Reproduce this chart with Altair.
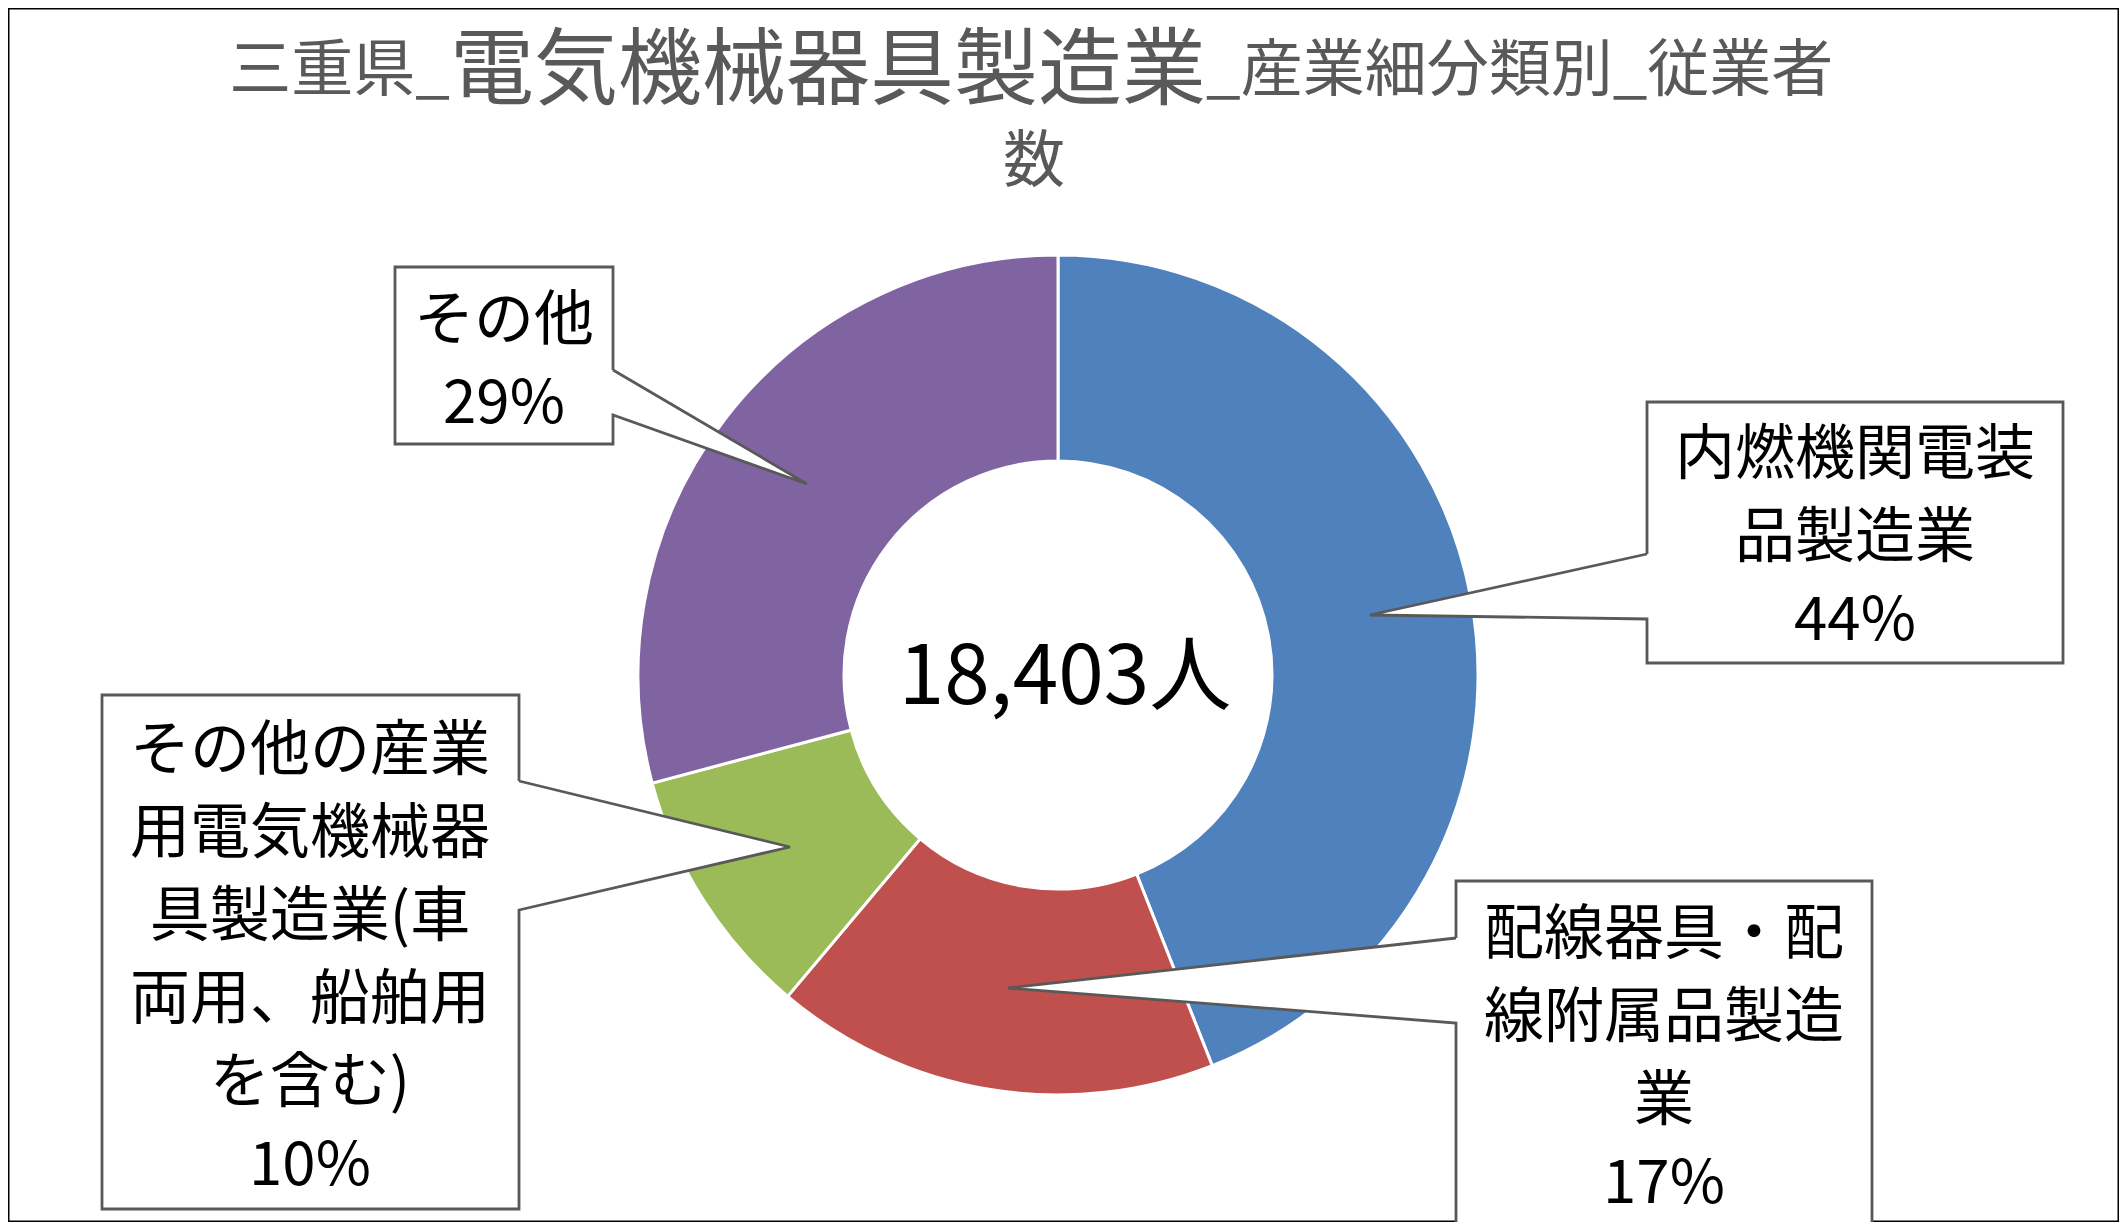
import altair as alt
import pandas as pd

# データ(三重県 電気機械器具製造業 産業細分類別 従業者数)
categories = [
    "内燃機関電装品製造業",
    "配線器具・配線附属品製造業",
    "その他の産業用電気機械器具製造業(車両用、船舶用を含む)",
    "その他",
]
employees = [8100, 3150, 1790, 5363]
label_lines = [
    ["内燃機関電装", "品製造業"],
    ["配線器具・配", "線附属品製造", "業"],
    ["その他の産業", "用電気機械器", "具製造業(車", "両用、船舶用", "を含む)"],
    ["その他"],
]
colors = ["#4F81BD", "#C0504D", "#9BBB59", "#8064A2"]
total_label = "18,403人"
title_parts = ["三重県_", "電気機械器具製造業", "_産業細分類別_従業者", "数"]

FONT = "Noto Sans CJK JP"
GRAY = "#595959"
OFF = 8                      # ページ余白
W, H = 2111, 1214

# 吹き出しの配置 (box: x0, y0, x1, y1 / 矢印: e1, tip, e2 / 文字中心x, 1行目y)
CALLOUTS = [
    dict(box=(1647, 402, 2063, 663), side="left",
         e1=(1647, 554), tip=(1370, 615), e2=(1647, 619), cx=1855, y0=452),
    dict(box=(1456, 881, 1872, 1224), side="left",
         e1=(1456, 938), tip=(1008, 988), e2=(1456, 1023), cx=1664, y0=932),
    dict(box=(102, 695, 519, 1209), side="right",
         e1=(519, 781), tip=(790, 847), e2=(519, 910), cx=310, y0=748),
    dict(box=(395, 267, 613, 444), side="right",
         e1=(613, 370), tip=(807, 484), e2=(613, 415), cx=504, y0=318),
]
LINE_H = 83
FS = 60

total = sum(employees)
shares = [round(v / total * 100) for v in employees]

pie_df = pd.DataFrame({"category": categories, "employees": employees,
                       "idx": range(len(categories))})

poly_rows, text_rows = [], []
for i, c in enumerate(CALLOUTS):
    x0, y0, x1, y1 = c["box"]
    if c["side"] == "left":
        pts = [c["e1"], c["tip"], c["e2"], (x0, y1), (x1, y1), (x1, y0), (x0, y0), c["e1"]]
    else:
        pts = [c["e1"], c["tip"], c["e2"], (x1, y1), (x0, y1), (x0, y0), (x1, y0), c["e1"]]
    for k, (px, py) in enumerate(pts):
        poly_rows.append({"cid": i, "step": k, "px": px - OFF, "py": py - OFF})
    lines = label_lines[i] + [f"{shares[i]}%"]
    for j, t in enumerate(lines):
        yc = c["y0"] + j * LINE_H
        text_rows.append({"px": c["cx"] - OFF, "py": yc + 0.37 * FS - OFF, "text": t})

poly_df = pd.DataFrame(poly_rows)
text_df = pd.DataFrame(text_rows)

xs = alt.Scale(domain=[0, W], nice=False, zero=False)
ys = alt.Scale(domain=[0, H], nice=False, zero=False, reverse=True)

donut = alt.Chart(pie_df).mark_arc(
    innerRadius=214, outerRadius=420, stroke="white", strokeWidth=3
).encode(
    theta=alt.Theta("employees:Q", stack=True),
    color=alt.Color("category:N", scale=alt.Scale(domain=categories, range=colors),
                    legend=None),
    order=alt.Order("idx:Q"),
    x=alt.value(1058 - OFF),
    y=alt.value(675 - OFF),
)

boxes = alt.Chart(poly_df).mark_line(
    fill="white", stroke=GRAY, strokeWidth=2.8, strokeJoin="miter"
).encode(
    x=alt.X("px:Q", scale=xs, axis=None),
    y=alt.Y("py:Q", scale=ys, axis=None),
    detail="cid:N",
    order="step:Q",
)

labels = alt.Chart(text_df).mark_text(
    font=FONT, fontSize=FS, color="black", align="center", baseline="alphabetic"
).encode(
    x=alt.X("px:Q", scale=xs, axis=None),
    y=alt.Y("py:Q", scale=ys, axis=None),
    text="text:N",
)

center = alt.Chart(pd.DataFrame({"t": [total_label]})).mark_text(
    font=FONT, fontSize=82, color="black", align="center", baseline="alphabetic"
).encode(x=alt.value(1065 - OFF), y=alt.value(674 + 0.37 * 82 - OFF), text="t:N")


def title_text(txt, x, y, size, align):
    return alt.Chart(pd.DataFrame({"t": [txt]})).mark_text(
        font=FONT, fontSize=size, color=GRAY, align=align, baseline="alphabetic"
    ).encode(x=alt.value(x - OFF), y=alt.value(y - OFF), text="t:N")


title = (
    title_text(title_parts[0], 450, 91, 62, "left" if False else "right")
    + title_text(title_parts[1], 828, 98, 84, "center")
    + title_text(title_parts[2], 1206, 91, 62, "left")
    + title_text(title_parts[3], 1034, 182, 62, "center")
)

chart = (
    (donut + boxes + labels + center + title)
    .properties(width=W, height=H, padding=0, autosize="none", background="white")
    .configure_view(stroke="black", strokeWidth=3)
)

chart.save("out.html", embed_options={"renderer": "svg", "actions": False})
